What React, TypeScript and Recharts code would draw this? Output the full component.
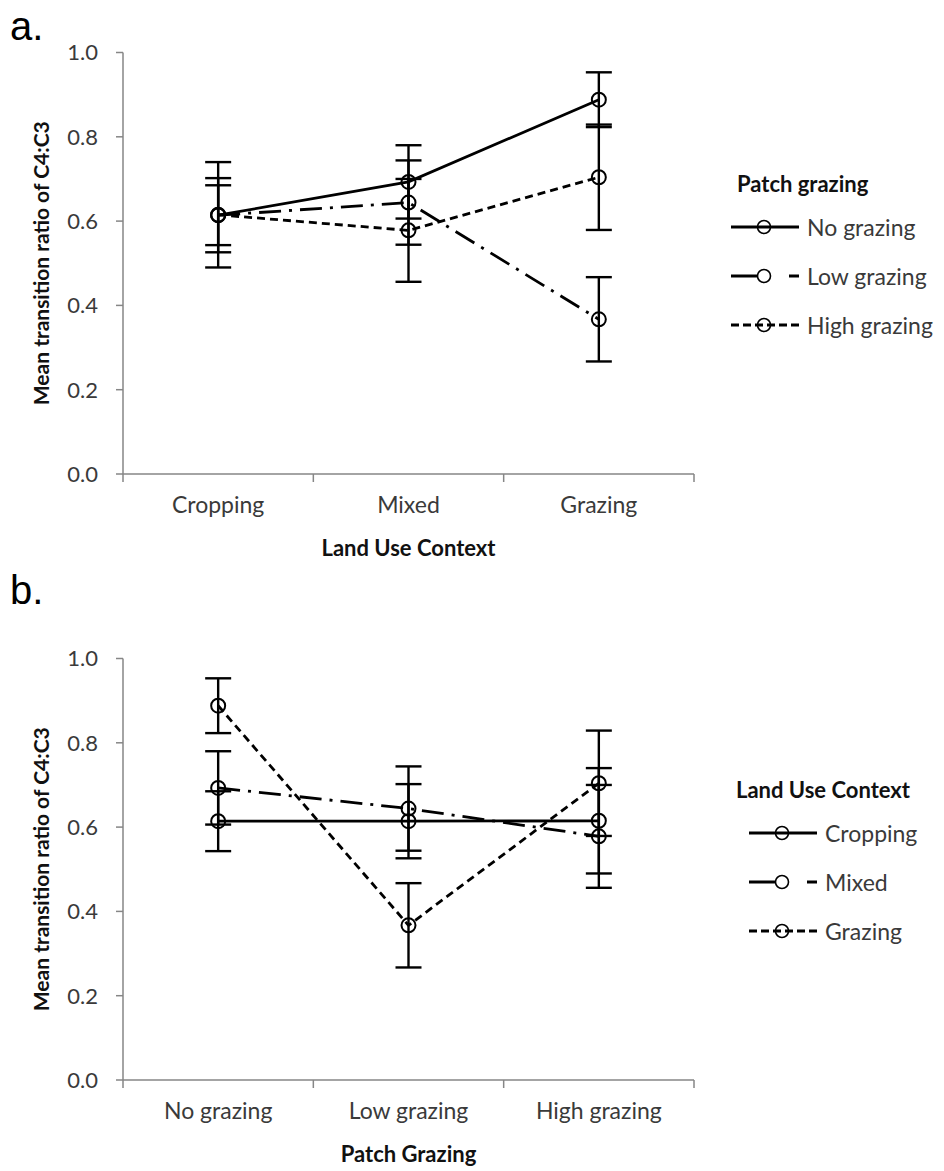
import React from 'react';
import { LineChart, Line, XAxis, YAxis, ErrorBar, Legend } from 'recharts';

const landUse = ['Cropping', 'Mixed', 'Grazing'];
const patchGrazing = ['No grazing', 'Low grazing', 'High grazing'];

// mean C4:C3 transition ratio per land use context (Cropping, Mixed, Grazing)
const noGrazingMean = [0.614, 0.693, 0.888];
const lowGrazingMean = [0.614, 0.644, 0.367];
const highGrazingMean = [0.615, 0.578, 0.704];

// +/- error per land use context
const noGrazingErr = [0.071, 0.087, 0.065];
const lowGrazingErr = [0.088, 0.1, 0.1];
const highGrazingErr = [0.125, 0.122, 0.125];

const yTicks = [0, 0.2, 0.4, 0.6, 0.8, 1.0];

const FONT = 'Lato, "Open Sans", sans-serif';
const AXIS_GREY = '#868686';
const TEXT_GREY = '#3a3a3a';
const dashes = ['', '22 8 3 8', '8 5'];

const means = [noGrazingMean, lowGrazingMean, highGrazingMean];
const errs = [noGrazingErr, lowGrazingErr, highGrazingErr];

// panel a: x = land use, series = patch grazing
const rowsA = landUse.map((name, i) => ({
  pos: i + 0.5,
  name,
  s0: means[0][i], e0: errs[0][i],
  s1: means[1][i], e1: errs[1][i],
  s2: means[2][i], e2: errs[2][i],
}));

// panel b: x = patch grazing, series = land use
const rowsB = patchGrazing.map((name, j) => ({
  pos: j + 0.5,
  name,
  s0: means[j][0], e0: errs[j][0],
  s1: means[j][1], e1: errs[j][1],
  s2: means[j][2], e2: errs[j][2],
}));

function LegendSample({ idx }: { idx: number }) {
  if (idx === 1) {
    return (
      <svg width={70} height={20} style={{ display: 'block' }}>
        <line x1={1} y1={10} x2={69} y2={10} stroke="#000" strokeWidth={3} strokeDasharray="27 31 10" />
        <circle cx={34} cy={10} r={6.5} fill="#fff" stroke="#000" strokeWidth={1.6} />
      </svg>
    );
  }
  return (
    <svg width={70} height={20} style={{ display: 'block' }}>
      <line x1={1} y1={10} x2={69} y2={10} stroke="#000" strokeWidth={3} strokeDasharray={dashes[idx] ? '8 4' : undefined} />
      <circle cx={34} cy={10} r={6.5} fill="none" stroke="#000" strokeWidth={1.6} />
    </svg>
  );
}

function makeLegend(title: string, names: string[], titleLeft: number, sampleLeft: number, textLeft: number) {
  const rowY = [67, 116, 165];
  return () => (
    <div style={{ position: 'relative', width: 220, height: 190, fontFamily: FONT }}>
      <div style={{ position: 'absolute', left: titleLeft, top: 24 - 13, lineHeight: '26px', fontSize: 22, fontWeight: 700, color: '#111', whiteSpace: 'nowrap' }}>
        {title}
      </div>
      {names.map((n, i) => (
        <React.Fragment key={n}>
          <div style={{ position: 'absolute', left: sampleLeft, top: rowY[i] - 10 }}>
            <LegendSample idx={i} />
          </div>
          <div style={{ position: 'absolute', left: textLeft, top: rowY[i] - 13, lineHeight: '26px', fontSize: 23, color: TEXT_GREY, whiteSpace: 'nowrap' }}>
            {n}
          </div>
        </React.Fragment>
      ))}
    </div>
  );
}

function Panel({ top, rows, cats, names, xTitle, legend }: any) {
  return (
    <div style={{ position: 'absolute', left: 0, top }}>
      <LineChart width={944} height={570} data={rows} margin={{ top: 52.5, right: 250, bottom: 8, left: 20 }}>
        <YAxis
          domain={[0, 1]}
          ticks={yTicks}
          width={103}
          tickSize={7}
          tickMargin={18}
          tickFormatter={(v: number) => v.toFixed(1)}
          axisLine={{ stroke: AXIS_GREY, strokeWidth: 1.5 }}
          tickLine={{ stroke: AXIS_GREY, strokeWidth: 1.5 }}
          tick={{ fill: TEXT_GREY, fontSize: 22, fontFamily: FONT }}
          label={{
            value: 'Mean transition ratio of C4:C3',
            angle: -90,
            position: 'insideLeft',
            offset: 22,
            style: { textAnchor: 'middle', fontSize: 21, fontWeight: 700, fontFamily: FONT, fill: '#111' },
          }}
        />
        <XAxis
          xAxisId="bounds"
          dataKey="pos"
          type="number"
          domain={[0, 3]}
          ticks={[0, 1, 2, 3]}
          height={8}
          tickSize={8}
          axisLine={{ stroke: AXIS_GREY, strokeWidth: 1.5 }}
          tickLine={{ stroke: AXIS_GREY, strokeWidth: 1.5 }}
          tick={() => <g />}
        />
        <XAxis
          xAxisId="labels"
          dataKey="pos"
          type="number"
          domain={[0, 3]}
          ticks={[0.5, 1.5, 2.5]}
          height={80}
          axisLine={false}
          tickLine={false}
          tickSize={0}
          tickMargin={15}
          tickFormatter={(v: number) => cats[Math.floor(v)]}
          tick={{ fill: TEXT_GREY, fontSize: 23, fontFamily: FONT }}
          label={{
            value: xTitle,
            position: 'insideBottom',
            offset: 6,
            style: { fontSize: 22, fontWeight: 700, fontFamily: FONT, fill: '#111' },
          }}
        />
        {[0, 1, 2].map((k) => (
          <Line
            key={k}
            xAxisId="bounds"
            dataKey={`s${k}`}
            name={names[k]}
            stroke="#000"
            strokeWidth={2.8}
            strokeDasharray={dashes[k] || undefined}
            dot={{ r: 7, fill: 'none', stroke: '#000', strokeWidth: 2, strokeDasharray: 'none' }}
            activeDot={false}
            isAnimationActive={false}
          >
            <ErrorBar dataKey={`e${k}`} width={13} stroke="#000" strokeWidth={2.4} direction="y" />
          </Line>
        ))}
        <Legend
          layout="horizontal"
          align="center"
          verticalAlign="middle"
          content={legend}
          wrapperStyle={{ left: 725, top: 160, width: 220 }}
        />
      </LineChart>
    </div>
  );
}

export default function App() {
  return (
    <div style={{ position: 'absolute', left: 0, top: 0, width: 944, height: 1171, background: '#fff' }}>
      <div style={{ position: 'absolute', left: 10, top: 2, fontFamily: '"Liberation Sans", Arial, sans-serif', fontSize: 40, lineHeight: '48px', color: '#000' }}>a.</div>
      <div style={{ position: 'absolute', left: 10, top: 566, fontFamily: '"Liberation Sans", Arial, sans-serif', fontSize: 40, lineHeight: '48px', color: '#000' }}>b.</div>
      <Panel
        top={0}
        rows={rowsA}
        cats={landUse}
        names={patchGrazing}
        xTitle="Land Use Context"
        legend={makeLegend('Patch grazing', patchGrazing, 12, 5, 82)}
      />
      <Panel
        top={606}
        rows={rowsB}
        cats={patchGrazing}
        names={landUse}
        xTitle="Patch Grazing"
        legend={makeLegend('Land Use Context', landUse, 11, 23, 100)}
      />
    </div>
  );
}
